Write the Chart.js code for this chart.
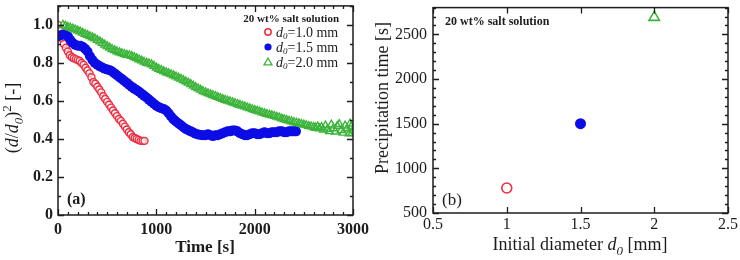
<!DOCTYPE html>
<html>
<head>
<meta charset="utf-8">
<script src="https://cdn.jsdelivr.net/npm/chart.js@4.4.1/dist/chart.umd.min.js"></script>
<style>
  html, body { margin: 0; padding: 0; background: #ffffff; }
  #wrap { position: relative; width: 740px; height: 260px; }
  canvas { position: absolute; top: 0; }
  #cA { left: 0; }
  #cB { left: 370px; }
</style>
</head>
<body>
<div id="wrap">
  <canvas id="cA" width="370" height="260"></canvas>
  <canvas id="cB" width="370" height="260"></canvas>
</div>
<script>
// ---------- Data: panel (a) ----------
const redTime  = [0,20,40,60,80,100,120,140,160,180,200,220,240,260,280,300,320,340,360,380,400,420,440,460,480,500,520,540,560,580,600,620,640,660,680,700,720,740,760,780,800,820,840,860,880];
const redRatio = [1.0,0.97,0.93,0.90,0.88,0.86,0.84,0.83,0.825,0.82,0.815,0.81,0.80,0.79,0.775,0.76,0.745,0.725,0.70,0.69,0.675,0.66,0.645,0.625,0.61,0.595,0.58,0.565,0.55,0.535,0.52,0.505,0.495,0.48,0.465,0.45,0.435,0.425,0.41,0.405,0.40,0.395,0.39,0.39,0.39];

const blueTime  = [0,25,50,75,100,125,150,175,200,225,250,275,300,325,350,375,400,425,450,475,500,525,550,575,600,625,650,675,700,725,750,775,800,825,850,875,900,925,950,975,1000,1025,1050,1075,1100,1125,1150,1175,1200,1225,1250,1275,1300,1325,1350,1375,1400,1425,1450,1475,1500,1525,1550,1575,1600,1625,1650,1675,1700,1725,1750,1775,1800,1825,1850,1875,1900,1925,1950,1975,2000,2025,2050,2075,2100,2125,2150,2175,2200,2225,2250,2275,2300,2325,2350,2375,2400,2420];
const blueRatio = [0.94,0.945,0.95,0.95,0.94,0.92,0.905,0.895,0.89,0.89,0.885,0.875,0.86,0.835,0.815,0.80,0.79,0.782,0.776,0.77,0.766,0.762,0.755,0.745,0.735,0.725,0.715,0.705,0.695,0.684,0.674,0.665,0.657,0.648,0.638,0.628,0.618,0.607,0.596,0.585,0.575,0.567,0.562,0.558,0.55,0.535,0.518,0.503,0.492,0.482,0.472,0.462,0.453,0.446,0.44,0.434,0.428,0.424,0.421,0.42,0.42,0.425,0.42,0.415,0.42,0.42,0.425,0.43,0.435,0.44,0.44,0.445,0.445,0.44,0.43,0.425,0.42,0.42,0.425,0.43,0.43,0.425,0.425,0.43,0.435,0.43,0.43,0.435,0.435,0.435,0.44,0.44,0.435,0.435,0.44,0.44,0.44,0.44];

const greenTime  = [50,75,100,125,150,175,200,225,250,275,300,325,350,375,400,425,450,475,500,525,550,575,600,625,650,675,700,725,750,775,800,825,850,875,900,925,950,975,1000,1025,1050,1075,1100,1125,1150,1175,1200,1225,1250,1275,1300,1325,1350,1375,1400,1425,1450,1475,1500,1525,1550,1575,1600,1625,1650,1675,1700,1725,1750,1775,1800,1825,1850,1875,1900,1925,1950,1975,2000,2025,2050,2075,2100,2125,2150,2175,2200,2225,2250,2275,2300,2325,2350,2375,2400,2425,2450,2475,2500,2525,2550,2575,2600,2620,2640,2660,2680,2700,2720,2740,2760,2780,2800,2820,2840,2860,2880,2900,2920,2940,2960,2970,2980,2990,3000];
const greenRatio = [1.0,0.995,0.99,0.985,0.98,0.975,0.97,0.965,0.958,0.952,0.946,0.94,0.934,0.928,0.92,0.912,0.904,0.896,0.888,0.88,0.872,0.866,0.86,0.855,0.85,0.846,0.842,0.84,0.836,0.83,0.824,0.818,0.812,0.806,0.80,0.797,0.792,0.784,0.775,0.768,0.762,0.756,0.75,0.745,0.74,0.734,0.728,0.722,0.716,0.709,0.702,0.695,0.688,0.68,0.672,0.665,0.658,0.651,0.645,0.64,0.635,0.63,0.625,0.62,0.615,0.61,0.605,0.601,0.597,0.592,0.588,0.583,0.579,0.574,0.57,0.565,0.561,0.556,0.552,0.548,0.544,0.539,0.535,0.531,0.527,0.524,0.52,0.516,0.512,0.507,0.503,0.499,0.495,0.492,0.488,0.485,0.482,0.478,0.475,0.472,0.468,0.465,0.462,0.458,0.465,0.455,0.462,0.448,0.47,0.452,0.44,0.475,0.455,0.438,0.468,0.478,0.445,0.432,0.47,0.455,0.428,0.48,0.465,0.43,0.445];

const timeTicks  = [0,1000,2000,3000];
const timeLabels = ['0','1000','2000','3000'];
const ratioTicks  = [0,0.2,0.4,0.6,0.8,1.0];
const ratioLabels = ['0','0.2','0.4','0.6','0.8','1.0'];

// ---------- Data: panel (b) ----------
const diameters   = [1.0, 1.5, 2.0];
const precipTimes = [780, 1500, 2690];
const diamTicks  = [0.5,1,1.5,2,2.5];
const diamLabels = ['0.5','1','1.5','2','2.5'];
const precTicks  = [500,1000,1500,2000,2500];
const precLabels = ['500','1000','1500','2000','2500'];

const seriesNames = ['=1.0 mm','=1.5 mm','=2.0 mm'];
const headerText = '20 wt% salt solution';

// ---------- styling ----------
const RED = '#ee2b3f', BLUE = '#0c0ce6', GREEN = '#3cb43a', INK = '#1c1c1c';
const SERIF = '"Liberation Serif", "Times New Roman", serif';

function pts(xs, ys) { return xs.map((x, i) => ({ x: x, y: ys[i] })); }

function fontOf(p, size) {
  return (p.i ? 'italic ' : '') + (p.b ? 'bold ' : '') + Math.round(size * (p.s || 1)) + 'px ' + SERIF;
}
function drawRich(ctx, parts, x, y, size, align) {
  let w = 0;
  parts.forEach(p => { ctx.font = fontOf(p, size); w += ctx.measureText(p.t).width; });
  let cx = align === 'center' ? x - w / 2 : (align === 'right' ? x - w : x);
  ctx.textBaseline = 'alphabetic';
  ctx.textAlign = 'left';
  parts.forEach(p => {
    ctx.font = fontOf(p, size);
    ctx.fillText(p.t, cx, y + (p.dy || 0) * size);
    cx += ctx.measureText(p.t).width;
  });
}

function drawMarker(ctx, style, x, y, r, color, bw) {
  ctx.save();
  ctx.strokeStyle = color; ctx.fillStyle = color; ctx.lineWidth = bw;
  ctx.beginPath();
  if (style === 'triangle') {
    ctx.moveTo(x, y - r);
    ctx.lineTo(x - r, y + r * 0.7);
    ctx.lineTo(x + r, y + r * 0.7);
    ctx.closePath();
    ctx.stroke();
  } else {
    ctx.arc(x, y, r, 0, Math.PI * 2);
    if (style === 'filled') ctx.fill(); else ctx.stroke();
  }
  ctx.restore();
}

// frame + inward ticks plugin
function framePlugin(cfg) {
  return {
    id: 'frame',
    afterDatasetsDraw(chart) {
      const ctx = chart.ctx, a = chart.chartArea;
      const xs = chart.scales.x, ys = chart.scales.y;
      ctx.save();
      ctx.strokeStyle = INK;
      ctx.lineWidth = 1.3;
      ctx.beginPath();
      const tick = (vals, len, isX) => {
        vals.forEach(v => {
          if (isX) {
            const p = Math.round(xs.getPixelForValue(v)) + 0.5;
            ctx.moveTo(p, a.bottom); ctx.lineTo(p, a.bottom - len);
            ctx.moveTo(p, a.top); ctx.lineTo(p, a.top + len);
          } else {
            const p = Math.round(ys.getPixelForValue(v)) + 0.5;
            ctx.moveTo(a.left, p); ctx.lineTo(a.left + len, p);
            ctx.moveTo(a.right, p); ctx.lineTo(a.right - len, p);
          }
        });
      };
      const range = (lo, hi, st) => { const r = []; for (let k = 0; lo + k * st <= hi + 1e-9; k++) r.push(lo + k * st); return r; };
      tick(cfg.xMajor, 6, true);
      if (cfg.xMinorStep) tick(range(xs.min, xs.max, cfg.xMinorStep), 3, true);
      tick(cfg.yMajor, 6, false);
      if (cfg.yMinorStep) tick(range(ys.min, ys.max, cfg.yMinorStep), 3, false);
      ctx.stroke();
      ctx.lineWidth = 1.5;
      ctx.strokeRect(a.left, a.top, a.right - a.left, a.bottom - a.top);
      ctx.restore();
      ctx.save();
      ctx.fillStyle = INK;
      cfg.decor(ctx, chart);
      ctx.restore();
    }
  };
}

function axisCfg(min, max, tickVals, tickLabels, font, pad, isX, fitVal) {
  return {
    type: 'linear', min: min, max: max,
    afterBuildTicks: s => { s.ticks = tickVals.map(v => ({ value: v })); },
    afterFit: s => {
      if (isX) { s.height = fitVal; s.paddingLeft = 0; s.paddingRight = 0; }
      else { s.width = fitVal; s.paddingTop = 0; s.paddingBottom = 0; }
    },
    ticks: {
      autoSkip: false, maxRotation: 0, minRotation: 0, padding: pad,
      color: INK, font: font,
      callback: v => { const i = tickVals.indexOf(v); return i >= 0 ? tickLabels[i] : ''; }
    },
    grid: { display: false, drawTicks: false },
    border: { display: false }
  };
}

// ---------- Panel (a) ----------
new Chart(document.getElementById('cA'), {
  type: 'scatter',
  data: {
    datasets: [
      { data: pts(greenTime, greenRatio), pointStyle: 'triangle', pointRadius: 4.5, borderColor: GREEN, backgroundColor: 'rgba(0,0,0,0)', borderWidth: 1.4 },
      { data: pts(blueTime, blueRatio), pointStyle: 'circle', pointRadius: 5, borderColor: BLUE, backgroundColor: BLUE, borderWidth: 0 },
      { data: pts(redTime, redRatio), pointStyle: 'circle', pointRadius: 3.5, borderColor: RED, backgroundColor: 'rgba(255,255,255,0.6)', borderWidth: 1.4 }
    ]
  },
  options: {
    responsive: false, animation: false, devicePixelRatio: 1,
    layout: { padding: { top: 3, right: 17, left: 0, bottom: 0 } },
    plugins: { legend: { display: false }, tooltip: { enabled: false } },
    scales: {
      x: axisCfg(0, 3000, timeTicks, timeLabels, { family: SERIF, size: 16, weight: 'bold' }, 5, true, 45),
      y: axisCfg(0, 1.1, ratioTicks, ratioLabels, { family: SERIF, size: 16, weight: 'bold' }, 5, false, 58)
    }
  },
  plugins: [framePlugin({
    xMajor: timeTicks, xMinorStep: 100, yMajor: ratioTicks, yMinorStep: 0.1,
    decor: (ctx) => {
      drawRich(ctx, [{ t: 'Time [s]', b: true }], 205, 252, 17, 'center');
      ctx.save();
      ctx.translate(18, 118); ctx.rotate(-Math.PI / 2);
      drawRich(ctx, [{ t: '(' }, { t: 'd', i: true }, { t: '/' }, { t: 'd', i: true }, { t: '0', i: true, s: 0.7, dy: 0.25 }, { t: ')' }, { t: '2', s: 0.7, dy: -0.4 }, { t: ' [-]' }], 0, 0, 18, 'center');
      ctx.restore();
      drawRich(ctx, [{ t: '(a)', b: true }], 67, 204, 16, 'left');
      // legend
      drawRich(ctx, [{ t: headerText, b: true }], 339, 22, 11, 'right');
      const cols = [RED, BLUE, GREEN], styles = ['circle', 'filled', 'triangle'];
      [32, 47, 62].forEach((yy, k) => {
        if (styles[k] === 'triangle') drawMarker(ctx, 'triangle', 268, yy, 4, cols[k], 1.3);
        else drawMarker(ctx, styles[k], 268, yy, styles[k] === 'filled' ? 3.6 : 3.2, cols[k], 1.5);
        ctx.fillStyle = INK;
        drawRich(ctx, [{ t: 'd', i: true }, { t: '0', i: true, s: 0.7, dy: 0.2 }, { t: seriesNames[k] }], 276, yy + 4.5, 13.5, 'left');
      });
    }
  })]
});

// ---------- Panel (b) ----------
new Chart(document.getElementById('cB'), {
  type: 'scatter',
  data: {
    datasets: [
      { data: [{ x: diameters[0], y: precipTimes[0] }], pointStyle: 'circle', pointRadius: 5, borderColor: RED, backgroundColor: 'rgba(0,0,0,0)', borderWidth: 1.6 },
      { data: [{ x: diameters[1], y: precipTimes[1] }], pointStyle: 'circle', pointRadius: 5.5, borderColor: BLUE, backgroundColor: BLUE, borderWidth: 0 },
      { data: [{ x: diameters[2], y: precipTimes[2] }], pointStyle: 'triangle', pointRadius: 6, borderColor: GREEN, backgroundColor: 'rgba(0,0,0,0)', borderWidth: 1.6 }
    ]
  },
  options: {
    responsive: false, animation: false, devicePixelRatio: 1,
    layout: { padding: { top: 3, right: 12, left: 0, bottom: 0 } },
    plugins: { legend: { display: false }, tooltip: { enabled: false } },
    scales: {
      x: axisCfg(0.5, 2.5, diamTicks, diamLabels, { family: SERIF, size: 16 }, 2, true, 47),
      y: axisCfg(500, 2800, precTicks, precLabels, { family: SERIF, size: 16 }, 6, false, 63)
    }
  },
  plugins: [framePlugin({
    xMajor: diamTicks, xMinorStep: 0, yMajor: precTicks, yMinorStep: 100,
    decor: (ctx) => {
      drawRich(ctx, [{ t: 'Initial diameter ' }, { t: 'd', i: true }, { t: '0', i: true, s: 0.7, dy: 0.25 }, { t: ' [mm]' }], 210, 250, 18, 'center');
      ctx.save();
      ctx.translate(18, 98); ctx.rotate(-Math.PI / 2);
      drawRich(ctx, [{ t: 'Precipitation time [s]' }], 0, 0, 18, 'center');
      ctx.restore();
      drawRich(ctx, [{ t: '(b)' }], 72, 205, 17, 'left');
      drawRich(ctx, [{ t: headerText, b: true }], 75, 25, 12, 'left');
    }
  })]
});
</script>
</body>
</html>
